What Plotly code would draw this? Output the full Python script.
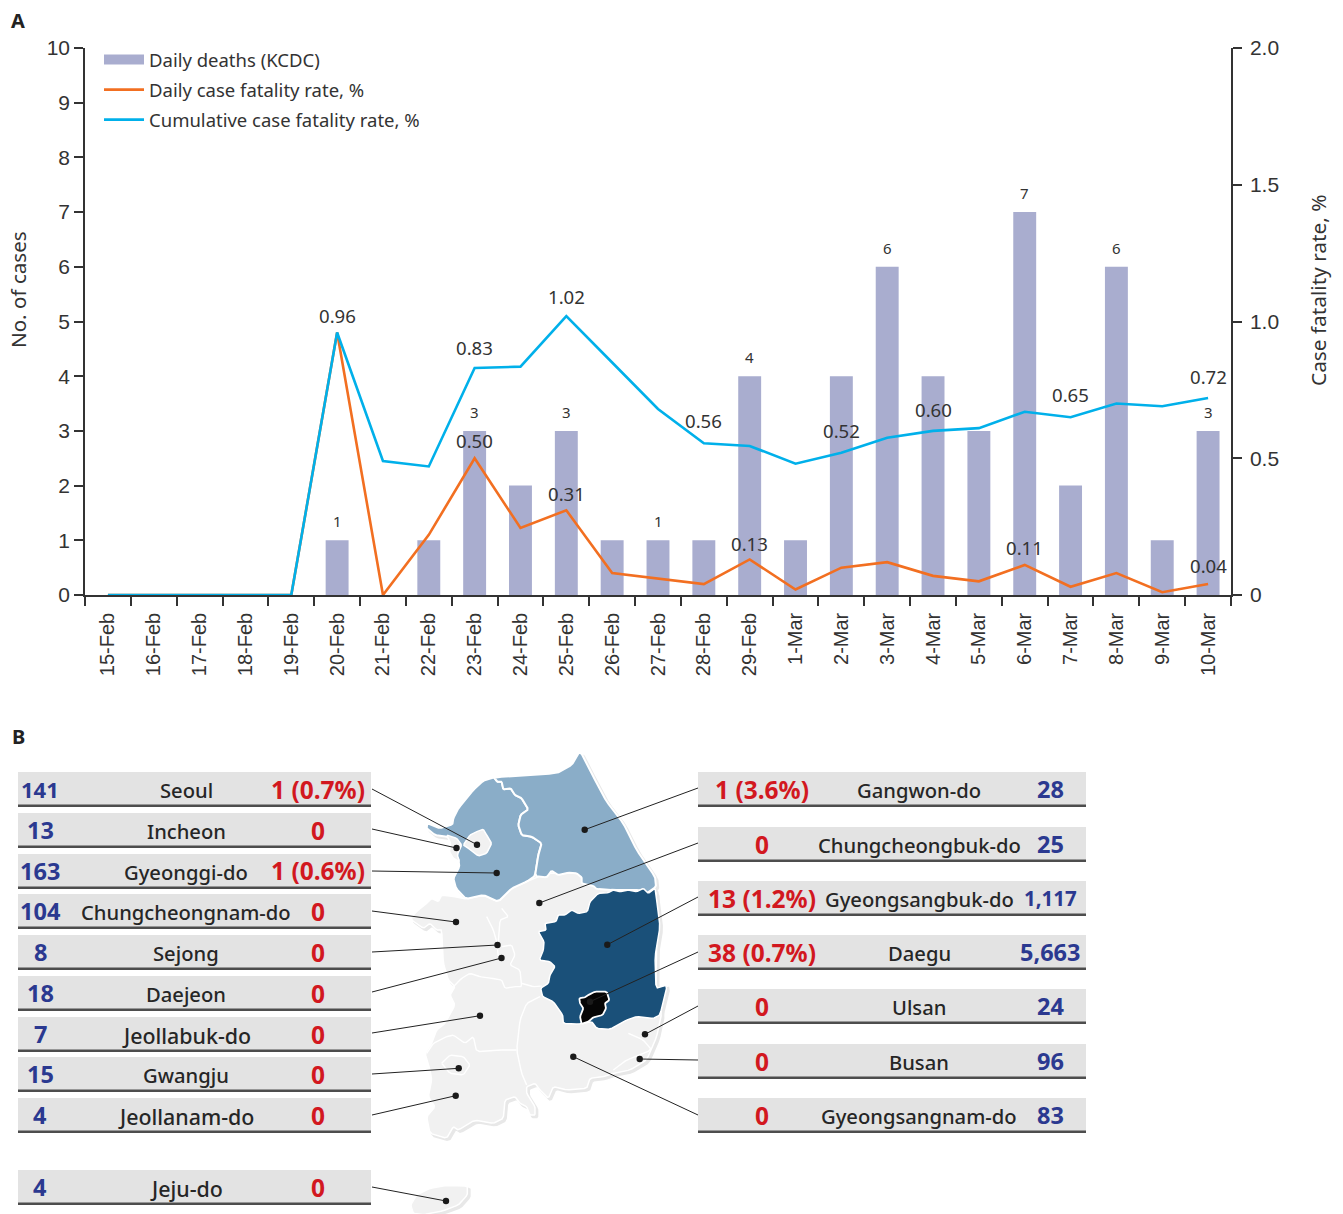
import plotly.graph_objects as go

# ---------- data ----------
dates = ["15-Feb","16-Feb","17-Feb","18-Feb","19-Feb","20-Feb","21-Feb","22-Feb","23-Feb","24-Feb","25-Feb","26-Feb","27-Feb","28-Feb","29-Feb",
         "1-Mar","2-Mar","3-Mar","4-Mar","5-Mar","6-Mar","7-Mar","8-Mar","9-Mar","10-Mar"]
daily_deaths = [0,0,0,0,0,1,0,1,3,2,3,1,1,1,4,1,4,6,4,3,7,2,6,1,3]
daily_cfr = [0,0,0,0,0,0.96,0,0.22,0.50,0.245,0.31,0.08,0.06,0.04,0.13,0.02,0.10,0.12,0.07,0.05,0.11,0.03,0.08,0.01,0.04]
cum_cfr = [0,0,0,0,0,0.96,0.49,0.47,0.83,0.835,1.02,0.85,0.68,0.555,0.545,0.48,0.52,0.575,0.60,0.61,0.67,0.65,0.70,0.69,0.72]
bar_labels = {"20-Feb":"1","23-Feb":"3","25-Feb":"3","27-Feb":"1","29-Feb":"4","3-Mar":"6","6-Mar":"7","8-Mar":"6","10-Mar":"3"}
daily_labels = {"23-Feb":"0.50","25-Feb":"0.31","29-Feb":"0.13","6-Mar":"0.11","10-Mar":"0.04"}
cum_labels = {"20-Feb":"0.96","23-Feb":"0.83","25-Feb":"1.02","28-Feb":"0.56","2-Mar":"0.52","4-Mar":"0.60","7-Mar":"0.65","10-Mar":"0.72"}

left_cases = ["141","13","163","104","8","18","7","15","4","4"]
left_names = ["Seoul","Incheon","Gyeonggi-do","Chungcheongnam-do","Sejong","Daejeon","Jeollabuk-do","Gwangju","Jeollanam-do","Jeju-do"]
left_deaths = ["1 (0.7%)","0","1 (0.6%)","0","0","0","0","0","0","0"]
right_deaths = ["1 (3.6%)","0","13 (1.2%)","38 (0.7%)","0","0","0"]
right_names = ["Gangwon-do","Chungcheongbuk-do","Gyeongsangbuk-do","Daegu","Ulsan","Busan","Gyeongsangnam-do"]
right_cases = ["28","25","1,117","5,663","24","96","83"]

# ---------- styling / layout helpers ----------
W, H = 1343, 1214
TEXT = "#333333"
SANS = "Noto Sans"
HELV = "Liberation Sans"
px = lambda x: x / W
py = lambda y: 1 - y / H
mx = lambda zx: 380 + zx / 3
my = lambda zy: 740 + zy / 3

def soften(pts, closed=True, k=0.12):
    out = [] if closed else [pts[0]]
    n = len(pts)
    for i in range(n if closed else n - 1):
        a, b = pts[i], pts[(i + 1) % n]
        out.append(((1-k)*a[0]+k*b[0], (1-k)*a[1]+k*b[1]))
        out.append((k*a[0]+(1-k)*b[0], k*a[1]+(1-k)*b[1]))
    if not closed:
        out.append(pts[-1])
    return out

def path(zpts, closed=True):
    zpts = soften(zpts, closed)
    s = "M " + " L ".join(f"{px(mx(a)):.5f},{py(my(b)):.5f}" for a, b in zpts)
    return s + (" Z" if closed else "")

def poly(zpts, fill, line="#ffffff", lw=1.5):
    return dict(type="path", xref="paper", yref="paper", path=path(zpts), fillcolor=fill,
                line=dict(color=line, width=lw), layer="above")

def border(zpts, lw=1.4):
    return dict(type="path", xref="paper", yref="paper", path=path(zpts, False),
                line=dict(color="#ffffff", width=lw), layer="above")

def rect(x0, y0, x1, y1, color):
    return dict(type="rect", xref="paper", yref="paper", x0=px(x0), x1=px(x1), y0=py(y0), y1=py(y1),
                fillcolor=color, line=dict(width=0), layer="above")

def seg(x0, y0, x1, y1):
    return dict(type="line", xref="paper", yref="paper", x0=px(x0), x1=px(x1), y0=py(y0), y1=py(y1),
                line=dict(color="#222222", width=1), layer="above")

def dot(x, y, r=3.2):
    return dict(type="circle", xref="paper", yref="paper", x0=px(x-r), x1=px(x+r), y0=py(y+r), y1=py(y-r),
                fillcolor="#1a1a1a", line=dict(width=0), layer="above")

def txt(x, y, s, size, color=TEXT, family=SANS, weight=None, angle=0, xanchor="center"):
    return dict(x=px(x), y=py(y), xref="paper", yref="paper", text=s, showarrow=False, xanchor=xanchor,
                yanchor="middle", textangle=angle, font=dict(size=size, color=color, family=family, weight=weight))

# map outlines (in crop coordinates)
ridge = [(342,112),(352,125),(365,125),(370,148),(392,145),(405,165),(425,175),(445,208),(422,225),(415,255),(425,285),(455,290),(485,310),(475,345),(465,408)]
gyeonggi = [(342,112),(310,122),(280,150),(235,205),(220,235),(217,253),(180,265),(142,250),(140,265),(165,285),(200,290),(220,300),(212,340),(235,355),(238,380),(220,415),(228,445),(258,477),(310,465),(355,485),(395,445),(440,425)] + ridge[::-1]
seoul = [(270,285),(290,275),(310,268),(320,285),(335,310),(320,340),(295,348),(265,325),(250,315)]
incheon = [(200,285),(230,295),(245,315),(232,345),(238,365),(220,355),(208,335),(212,310)]
gangwon = ridge + [(500,412),(515,392),(535,405),(565,398),(590,400),(605,412),(605,430),(640,438),(650,447),(700,450),(780,450),(800,460),(828,440),(825,410),(770,330),(730,250),(680,185),(640,110),(600,32),(575,75),(530,100)]
south = [(95,530),(115,510),(140,490),(155,475),(175,485),(185,465),(225,470),(258,477),(310,465),(355,485),(395,445),(440,425),(500,400),(600,400),(828,440),(830,600),(828,745),(845,820),(830,890),(800,960),(750,990),(700,1000),(670,1010),(630,1015),(620,1045),(560,1050),(520,1040),(505,1075),(480,1050),(465,1030),(440,1040),(440,1060),(465,1100),(465,1125),(450,1125),(440,1100),(420,1090),(405,1070),(375,1080),(370,1135),(340,1150),(285,1140),(235,1170),(220,1160),(200,1195),(150,1180),(140,1130),(165,1100),(145,1070),(155,1020),(150,990),(135,940),(155,910),(170,870),(195,850),(225,795),(210,765),(225,740),(205,720),(190,670),(185,570),(170,570),(150,550),(130,565),(95,540)]
gyeongbuk = [(825,445),(805,460),(790,445),(770,455),(745,450),(720,455),(700,450),(685,458),(655,460),(630,485),(622,515),(595,520),(575,510),(555,525),(535,525),(528,545),(495,550),(498,570),(475,575),(492,605),(490,630),(478,660),(510,665),(525,680),(510,705),(505,730),(482,745),(488,770),(520,785),(548,825),(550,850),(595,852),(635,845),(650,865),(690,868),(740,840),(770,830),(820,835),(840,825),(862,735),(828,745),(825,650),(840,560),(830,480)]
daegu = [(598,775),(615,772),(625,765),(645,755),(680,755),(688,780),(675,790),(678,805),(668,825),(640,832),(625,845),(605,852),(600,830),(610,805),(600,790)]
jeju = [(92,1395),(110,1365),(150,1345),(200,1336),(262,1338),(262,1365),(235,1395),(190,1412),(130,1424),(100,1420)]
borders = [
    [(365,505),(385,530),(360,540),(355,605)],
    [(320,530),(340,570),(350,605),(355,650)],
    [(365,620),(395,615),(405,645),(390,675),(420,690),(425,740),(405,740),(375,745),(365,720),(335,715),(300,710),(270,700),(245,715),(220,740)],
    [(425,730),(460,740),(485,738)],
    [(480,770),(440,790),(420,840),(410,930),(425,1000),(440,1035)],
    [(410,930),(360,930),(290,935),(280,890),(255,910),(220,885),(200,890),(160,910),(140,940)],
    [(185,970),(210,945),(250,950),(270,975),(250,1005),(210,1000),(185,970)],
    [(745,880),(790,900),(815,930),(740,960),(700,990)],
]

shapes, ann = [], []

# map: soft shadow, then regions
offset = lambda pts: [(a+7, b+7) for a, b in pts]
for region in (gangwon, gyeonggi, south, gyeongbuk, jeju):
    shapes.append(poly(offset(region), "#e8e8e8", "#e8e8e8", 2))
shapes += [poly(south, "#f1f1f1"), poly(jeju, "#f1f1f1"), poly(gyeonggi, "#8aadc8", "#ffffff", 2), poly(gangwon, "#8aadc8", "#ffffff", 2),
           poly(seoul, "#f1f1f1"), poly(incheon, "#f1f1f1"), poly(gyeongbuk, "#1a5079", "#ffffff", 1.5), poly(daegu, "#060606", "#ffffff", 1.8)]
shapes += [border(b) for b in borders]

# table rows
left_tops = [772,813,854,894,935,976,1017,1057,1098,1170]
right_tops = [772,827,881,935,989,1044,1098]
BLUE, RED, DARK = "#2b3990", "#d2181f", "#262626"
case_size = {"141": 22, "1,117": 20.5}
name_size = {"Jeollabuk-do": 21.4, "Jeollanam-do": 21.4, "Jeju-do": 21.4}
for i, t in enumerate(left_tops):
    shapes += [rect(18, t, 371, t+34, "#e3e3e3"), rect(18, t+32.5, 371, t+35, "#4d4d4d")]
    ann += [txt(40, t+17, left_cases[i], case_size.get(left_cases[i], 23.5), BLUE, weight=700),
            txt(186, t+18, left_names[i], name_size.get(left_names[i], 20.2), DARK, weight=500),
            txt(318, t+17, left_deaths[i], 24.5, RED, weight=700)]
for i, t in enumerate(right_tops):
    shapes += [rect(698, t, 1086, t+34, "#e3e3e3"), rect(698, t+32.5, 1086, t+35, "#4d4d4d")]
    ann += [txt(762, t+17, right_deaths[i], 24.5, RED, weight=700),
            txt(919, t+18, right_names[i], 20.2, DARK, weight=500),
            txt(1050, t+17, right_cases[i], case_size.get(right_cases[i], 23.5), BLUE, weight=700)]

# leader lines
leaders = [(372,789,477,844.7),(372,829,456.5,848),(372,871,496.7,873),(372,911,456,922),(372,952,497.5,945),
           (372,992,501.5,958),(372,1033,480,1015.7),(372,1074,458.7,1068.3),(372,1115,455.7,1095.7),(372,1187,446,1201),
           (698,788,584.7,829.7),(698,843,539.3,903),(698,897,607.3,944.7),(698,952,590,1001.7),(698,1006,645,1034.3),
           (698,1060,639.7,1059),(698,1115,573.3,1056.7)]
for l in leaders:
    shapes += [seg(*l), dot(l[2], l[3])]

# panel letters and axis titles
ann += [txt(18, 20, "A", 20, "#222222", weight=700), txt(18, 736, "B", 20, "#222222", weight=700),
        txt(18, 290, "No. of cases", 20.6, TEXT, angle=-90), txt(1318, 290, "Case fatality rate, %", 20.8, TEXT, angle=-90)]

# chart labels attached to the data
cum_shift = {"0.96":17,"0.83":21,"1.02":20,"0.56":23,"0.52":22,"0.60":21,"0.65":23,"0.72":22}
daily_shift = {"0.50":18,"0.31":17,"0.13":16,"0.11":17,"0.04":19}
for d, s in bar_labels.items():
    ann.append(dict(x=d, y=daily_deaths[dates.index(d)], xref="x", yref="y", text=s, showarrow=False, yshift=19,
                    font=dict(size=15, color=TEXT, family=SANS)))
for d, s in cum_labels.items():
    ann.append(dict(x=d, y=cum_cfr[dates.index(d)], xref="x", yref="y2", text=s, showarrow=False, yshift=cum_shift[s],
                    font=dict(size=18.6, color=TEXT, family=SANS)))
for d, s in daily_labels.items():
    ann.append(dict(x=d, y=daily_cfr[dates.index(d)], xref="x", yref="y2", text=s, showarrow=False, yshift=daily_shift[s],
                    font=dict(size=18.6, color=TEXT, family=SANS)))

fig = go.Figure()
fig.add_bar(x=dates, y=daily_deaths, showlegend=False, marker=dict(color="#a9adcf", line=dict(width=0)), width=0.5, yaxis="y")
fig.add_scatter(x=[None], y=[None], mode="lines", name="Daily deaths (KCDC)", legendgroup="a", line=dict(color="#a9adcf", width=12), yaxis="y")
fig.add_scatter(x=dates, y=daily_cfr, mode="lines", name="Daily case fatality rate, %", legendgroup="b", line=dict(color="#f26f21", width=2.6), yaxis="y2")
fig.add_scatter(x=dates, y=cum_cfr, mode="lines", name="Cumulative case fatality rate, %", legendgroup="c", line=dict(color="#00b0ea", width=2.6), yaxis="y2")

axis_common = dict(showline=True, linecolor="#333333", linewidth=1.5, ticks="outside", ticklen=9, tickwidth=1.5,
                   tickcolor="#333333", showgrid=False, zeroline=False)
fig.update_layout(
    width=W, height=H, margin=dict(l=0, r=0, t=0, b=0, autoexpand=False), paper_bgcolor="white", plot_bgcolor="white",
    font=dict(family=HELV, color=TEXT),
    bargap=0.5,
    xaxis=dict(type="category", categoryorder="array", categoryarray=dates, range=[-0.5, 24.5], tickson="boundaries",
               domain=[px(85), px(1231)], tickangle=-90, tickfont=dict(size=20, family=HELV), ticklabelstandoff=8, anchor="y", **axis_common),
    yaxis=dict(domain=[py(595), py(48)], range=[0, 10], tickmode="array", tickvals=list(range(11)),
               tickfont=dict(size=21, family=HELV), **axis_common),
    yaxis2=dict(domain=[py(595), py(48)], range=[0, 2], overlaying="y", side="right", anchor="x", tickmode="array",
                tickvals=[0, 0.5, 1, 1.5, 2], ticktext=["0", "0.5", "1.0", "1.5", "2.0"],
                tickfont=dict(size=21, family=HELV), ticklabelstandoff=4, **axis_common),
    legend=dict(x=px(99), y=py(41), xanchor="left", yanchor="top", itemwidth=40, tracegroupgap=3,
                font=dict(size=18.5, family=SANS, color=TEXT), bgcolor="rgba(0,0,0,0)", traceorder="grouped"),
    shapes=shapes, annotations=ann,
)
fig.write_html("out.html", config={"displayModeBar": False}, post_script="document.body.style.margin='0';")
